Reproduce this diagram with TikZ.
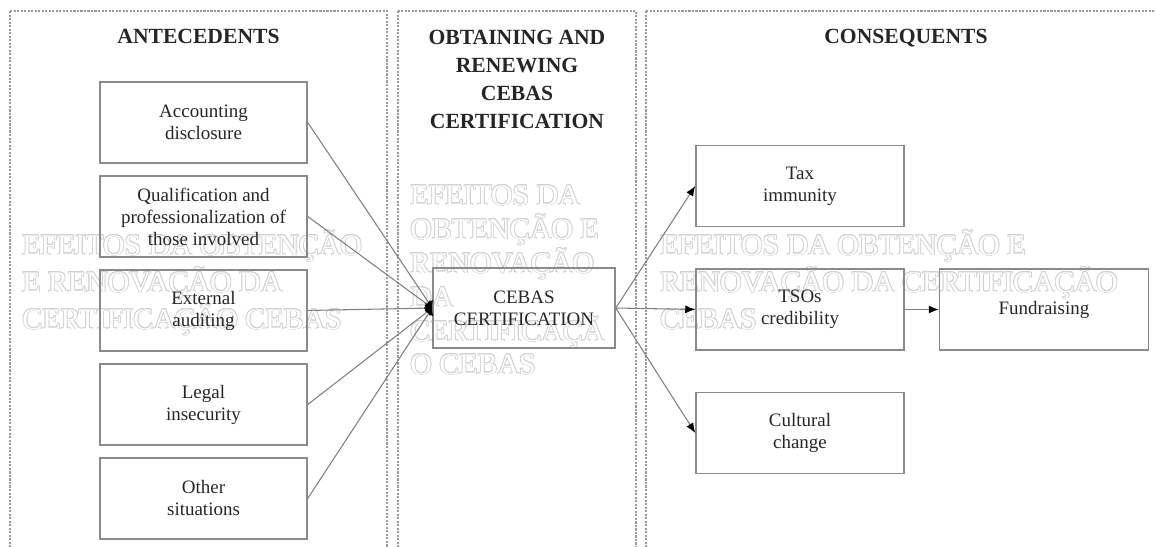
\documentclass[tikz,border=0pt]{standalone}
\usepackage{fontspec}
\setmainfont{Liberation Serif}
\usepackage{xcolor}
\definecolor{lineGray}{HTML}{7F7F7F}
\definecolor{boxGray}{HTML}{8A8A8A}
\definecolor{textDark}{HTML}{262626}
\definecolor{frameGray}{HTML}{9A9A9A}
\definecolor{wmGray}{HTML}{D2D2D2}
\usepackage{contour}
\contourlength{0.45pt}
\usepackage{tikz}
\usetikzlibrary{positioning,arrows.meta}
\newcommand{\wmLine}[1]{\contour{wmGray}{\textcolor{white}{#1}}}
\tikzset{%
  panelFrame/.style={%
    draw=frameGray,
    line width=0.7pt,
    dash pattern=on 1.2pt off 0.8pt
  },
  titleText/.style={%
    font=\fontsize{12.3}{15.9}\selectfont\bfseries,
    text=textDark,
    inner sep=0pt
  },
  factorBox/.style={%
    rectangle,
    draw=boxGray,
    line width=0.85pt,
    text=textDark,
    font=\fontsize{10.8}{12.5}\selectfont,
    minimum width=4.14cm,
    minimum height=1.62cm,
    align=center
  },
  certBox/.style={%
    factorBox,
    minimum width=3.64cm,
    minimum height=1.6cm
  },
  effectBox/.style={%
    factorBox,
    minimum width=4.16cm
  },
  linkArrow/.style={%
    -{Latex[length=0.13cm,width=0.22cm,color=black]},
    line width=0.6pt,
    color=lineGray
  },
  arrowLine/.style={%
    -{Latex[length=0.2cm,width=0.16cm,color=black]},
    line width=0.6pt,
    color=lineGray
  },
  wmText/.style={%
    anchor=base west,
    inner sep=0pt,
    font=\fontsize{17}{21}\selectfont
  }
}

\begin{document}
\begin{tikzpicture}[node distance=0.23cm]
  \useasboundingbox (0,0) rectangle (23.12,-10.94);
  \clip (0,0) rectangle (23.12,-10.94);

  % panels
  \draw[panelFrame] (0.2,-0.22) rectangle (7.74,-11.4);
  \draw[panelFrame] (7.96,-0.22) rectangle (12.72,-11.4);
  \draw[panelFrame] (12.92,-0.22) rectangle (23.8,-11.4);

  % watermark text
  \node[wmText] (wmL1) at (0.44,-5.10) {\wmLine{EFEITOS DA OBTENÇÃO}};
  \node[wmText] (wmL2) at (0.44,-5.84) {\wmLine{E RENOVAÇÃO DA}};
  \node[wmText] (wmL3) at (0.44,-6.58) {\wmLine{CERTIFICAÇÃO CEBAS}};
  \node[wmText] (wmM1) at (8.2,-4.10) {\wmLine{EFEITOS DA}};
  \node[wmText] (wmM2) at (8.2,-4.78) {\wmLine{OBTENÇÃO E}};
  \node[wmText] (wmM3) at (8.2,-5.46) {\wmLine{RENOVAÇÃO}};
  \node[wmText] (wmM4) at (8.2,-6.14) {\wmLine{DA}};
  \node[wmText] (wmM5) at (8.2,-6.82) {\wmLine{CERTIFICAÇÃ}};
  \node[wmText] (wmM6) at (8.2,-7.48) {\wmLine{O CEBAS}};
  \node[wmText] (wmR1) at (13.2,-5.10) {\wmLine{EFEITOS DA OBTENÇÃO E}};
  \node[wmText] (wmR2) at (13.2,-5.84) {\wmLine{RENOVAÇÃO DA CERTIFICAÇÃO}};
  \node[wmText] (wmR3) at (13.2,-6.58) {\wmLine{CEBAS}};

  % titles
  \node[titleText, anchor=base] (antTitle) at (3.97,-0.86) {ANTECEDENTS};
  \node[titleText, anchor=north, align=center] (midTitle) at (10.34,-0.6)
    {OBTAINING AND\\RENEWING\\CEBAS\\CERTIFICATION};
  \node[titleText, anchor=base] (conTitle) at (18.12,-0.86) {CONSEQUENTS};

  % antecedents
  \node[factorBox] (accDisc) at (4.07,-2.45) {Accounting\\disclosure};
  \node[factorBox, below=of accDisc] (qualProf) {Qualification and\\professionalization of\\those involved};
  \node[factorBox, below=of qualProf] (extAudit) {External\\auditing};
  \node[factorBox, below=of extAudit] (legalIns) {Legal\\insecurity};
  \node[factorBox, below=of legalIns] (otherSit) {Other\\situations};

  % certification
  \node[certBox] (cebas) at (10.48,-6.16) {CEBAS\\CERTIFICATION};

  % consequents
  \node[effectBox] (taxImm) at (16.0,-3.72) {Tax\\immunity};
  \node[effectBox, below=0.82cm of taxImm] (tsoCred) {TSOs\\credibility};
  \node[effectBox, below=0.82cm of tsoCred] (cultChange) {Cultural\\change};
  \node[effectBox, minimum width=4.18cm, right=0.68cm of tsoCred] (fundRais) {Fundraising};

  \draw[linkArrow] (accDisc.east) -- (cebas.west);
  \draw[linkArrow] (qualProf.east) -- (cebas.west);
  \draw[linkArrow] (extAudit.east) -- (cebas.west);
  \draw[linkArrow] (legalIns.east) -- (cebas.west);
  \draw[linkArrow] (otherSit.east) -- (cebas.west);

  \draw[arrowLine] (cebas.east) -- (taxImm.west);
  \draw[arrowLine] (cebas.east) -- (tsoCred.west);
  \draw[arrowLine] (cebas.east) -- (cultChange.west);
  \draw[arrowLine] (tsoCred) -- (fundRais);
\end{tikzpicture}
\end{document}
